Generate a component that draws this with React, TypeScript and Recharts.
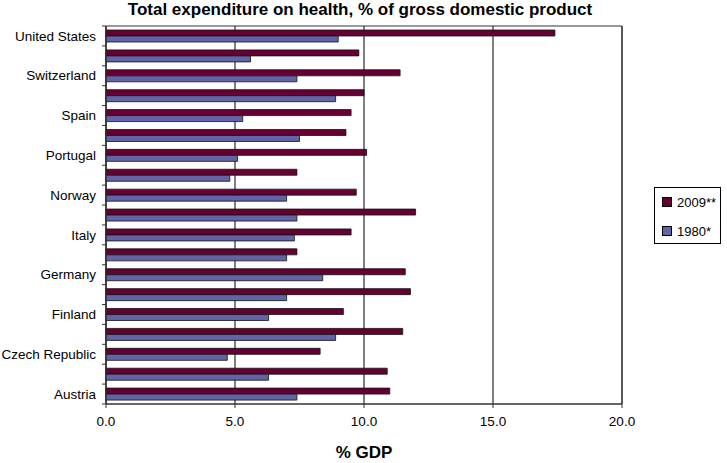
import { BarChart, Bar, XAxis, YAxis, CartesianGrid, ReferenceArea } from "recharts";

// categories, top to bottom (every other label is hidden like in the original)
const countries = [
  "United States",
  "United Kingdom",
  "Switzerland",
  "Sweden",
  "Spain",
  "Slovak Republic",
  "Portugal",
  "Poland",
  "Norway",
  "Netherlands",
  "Italy",
  "Ireland",
  "Germany",
  "France",
  "Finland",
  "Denmark",
  "Czech Republic",
  "Belgium",
  "Austria",
];

// % of GDP
const values2009 = [17.4, 9.8, 11.4, 10.0, 9.5, 9.3, 10.1, 7.4, 9.7, 12.0, 9.5, 7.4, 11.6, 11.8, 9.2, 11.5, 8.3, 10.9, 11.0];
const values1980 = [9.0, 5.6, 7.4, 8.9, 5.3, 7.5, 5.1, 4.8, 7.0, 7.4, 7.3, 7.0, 8.4, 7.0, 6.3, 8.9, 4.7, 6.3, 7.4];

const xTicks = [0, 5, 10, 15, 20];

const series = [
  { key: "y2009", name: "2009**", color: "#660033" },
  { key: "y1980", name: "1980*", color: "#6363A8" },
];

const data = countries.map((name, i) => ({
  name,
  y2009: values2009[i],
  y1980: values1980[i],
}));

const W = 727;
const H = 463;
const PLOT_LEFT = 106;
const PLOT_TOP = 26;
const PLOT_BOTTOM = 404;
const FONT = "Arial, 'Liberation Sans', sans-serif";

const band = (PLOT_BOTTOM - PLOT_TOP) / countries.length;

// y axis tick: label every second category, tick marks on the category boundaries
const CountryTick = (props: any) => {
  const { y, payload, index } = props;
  const b = y + band / 2;
  return (
    <g>
      {index === 0 && (
        <line x1={PLOT_LEFT - 4} x2={PLOT_LEFT} y1={y - band / 2} y2={y - band / 2} stroke="#333" />
      )}
      <line x1={PLOT_LEFT - 4} x2={PLOT_LEFT} y1={b} y2={b} stroke="#333" />
      {index % 2 === 0 && (
        <text x={PLOT_LEFT - 10} y={y} dy="0.35em" textAnchor="end" fontSize={13.5} fill="#000" fontFamily={FONT}>
          {payload.value}
        </text>
      )}
    </g>
  );
};

// legend drawn as plain html so it doesn't eat chart space
const LegendBox = () => (
  <div
    style={{
      position: "absolute",
      left: 654,
      top: 187,
      width: 67,
      height: 57,
      border: "1px solid #000",
      background: "#fff",
      fontFamily: FONT,
      fontSize: 13,
      boxSizing: "border-box",
      paddingLeft: 7,
    }}
  >
    {series.map((s, i) => (
      <div key={s.key} style={{ display: "flex", alignItems: "center", height: 14, marginTop: i === 0 ? 7 : 15 }}>
        <span
          style={{
            display: "inline-block",
            width: 8,
            height: 8,
            background: s.color,
            border: "1px solid #000",
            marginRight: 5,
          }}
        />
        <span>{s.name}</span>
      </div>
    ))}
  </div>
);

export default function App() {
  return (
    <div style={{ position: "absolute", left: 0, top: 0, width: W, height: H, background: "#fff" }}>
      <div
        style={{
          position: "absolute",
          left: 0,
          top: 0,
          width: 720,
          textAlign: "center",
          fontFamily: FONT,
          fontWeight: "bold",
          fontSize: 17,
          lineHeight: "20px",
        }}
      >
        Total expenditure on health, % of gross domestic product
      </div>
      <BarChart
        width={W}
        height={H}
        data={data}
        layout="vertical"
        margin={{ top: PLOT_TOP, right: W - 622, left: 0, bottom: 0 }}
        barSize={6}
        barGap={0}
      >
        <CartesianGrid horizontal={false} stroke="#000" />
        <XAxis
          type="number"
          domain={[0, 20]}
          ticks={xTicks}
          tickFormatter={(v: number) => v.toFixed(1)}
          height={H - PLOT_BOTTOM}
          tickSize={4}
          tickMargin={8}
          stroke="#333"
          tick={{ fill: "#000", fontSize: 13.5, fontFamily: FONT }}
          label={{
            value: "% GDP",
            position: "insideBottom",
            offset: 5,
            style: { fontFamily: FONT, fontWeight: "bold", fontSize: 17, fill: "#000" },
          }}
        />
        <YAxis
          type="category"
          dataKey="name"
          width={PLOT_LEFT}
          interval={0}
          tickLine={false}
          stroke="#333"
          tick={<CountryTick />}
        />
        <ReferenceArea x1={0} x2={20} fill="none" fillOpacity={0} stroke="#333" strokeOpacity={1} />
        {series.map((s) => (
          <Bar
            key={s.key}
            dataKey={s.key}
            name={s.name}
            fill={s.color}
            stroke="#111"
            strokeWidth={0.8}
            isAnimationActive={false}
          />
        ))}
      </BarChart>
      <LegendBox />
    </div>
  );
}
